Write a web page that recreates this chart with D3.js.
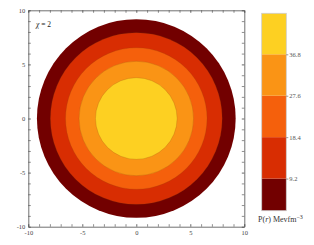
<!DOCTYPE html>
<html lang="en">
<head>
<meta charset="UTF-8"/>
<title>Density contours</title>
<script src="https://d3js.org/d3.v7.min.js"></script>
<style>
  body { margin: 0; background: white; }
  svg { display: block; }
</style>
</head>
<body>
<script>
    // contour levels of P(r) and the radius (fm) where each band ends
    var levels = [9.2, 18.4, 27.6, 36.8];
    var bandRadii = [9.2, 7.95, 6.55, 5.3, 3.78];
    var bandColors = ["#720000", "#d82d02", "#f5600c", "#fa9415", "#fdd022"];
    var axisTicks = [-10, -5, 0, 5, 10];
    var barDomain = [2.07, 45.9];

    var w = 314, h = 245;
    var padL = 28.3, padR = 244.3, padT = 10.3, padB = 226.7;

    var svg = d3.select("body").append("svg")
        .attr("width", w)
        .attr("height", h);

    var xScale = d3.scaleLinear().domain([-10, 10]).range([padL, padR]);
    var yScale = d3.scaleLinear().domain([-10, 10]).range([padB, padT]);

    // filled discs, largest first
    svg.selectAll("circle.band")
        .data(bandRadii)
        .enter()
        .append("circle")
        .attr("class", "band")
        .attr("cx", xScale(0))
        .attr("cy", yScale(0))
        .attr("r", function(d) { return xScale(d) - xScale(0); })
        .attr("fill", function(d, i) { return bandColors[i]; })
        .attr("stroke", function(d, i) { return i == 0 ? "none" : "#8a4a10"; })
        .attr("stroke-opacity", 0.35)
        .attr("stroke-width", 0.6);

    // axes, ticks inside, mirrored
    var minor = d3.range(-10, 11, 1);
    function addAxis(axis, tr, withLabels) {
        var g = svg.append("g")
            .attr("transform", tr)
            .call(axis.tickValues(minor).tickSize(-2.5).tickSizeOuter(0)
                  .tickFormat(function(d) { return withLabels && axisTicks.indexOf(d) >= 0 ? d : ""; }));
        g.selectAll(".tick line")
            .attr("stroke", "#444")
            .attr("stroke-width", 0.6)
            .filter(function(d) { return d % 5 == 0; })
            .attr("stroke-width", 0.8);
        g.select(".domain").attr("stroke", "#333").attr("stroke-width", 0.7);
        g.selectAll("text")
            .attr("font-family", "Liberation Serif")
            .attr("font-size", "6.5px")
            .attr("fill", "#444");
        return g;
    }
    var gx = addAxis(d3.axisBottom(xScale), "translate(0," + padB + ")", true);
    gx.selectAll("text").attr("y", 4).attr("dy", "0.71em");
    addAxis(d3.axisTop(xScale), "translate(0," + padT + ")", false);
    var gy = addAxis(d3.axisLeft(yScale), "translate(" + padL + ",0)", true);
    gy.selectAll("text").attr("x", -3);
    addAxis(d3.axisRight(yScale), "translate(" + padR + ",0)", false);

    // frame label
    var lab = svg.append("text")
        .attr("x", 36)
        .attr("y", 27)
        .attr("font-family", "Liberation Serif")
        .attr("font-size", "7.5px")
        .attr("fill", "#222");
    lab.append("tspan").attr("font-style", "italic").text("χ");
    lab.append("tspan").text(" = 2");

    // colour bar
    var barX = 261.7, barW = 24.6;
    var cScale = d3.scaleLinear().domain(barDomain).range([210.7, 13.3]);
    var edges = [barDomain[0]].concat(levels).concat([barDomain[1]]);
    var segs = d3.range(edges.length - 1).map(function(i) { return [edges[i], edges[i + 1]]; });

    svg.selectAll("rect.seg")
        .data(segs)
        .enter()
        .append("rect")
        .attr("class", "seg")
        .attr("x", barX)
        .attr("width", barW)
        .attr("y", function(d) { return cScale(d[1]); })
        .attr("height", function(d) { return cScale(d[0]) - cScale(d[1]); })
        .attr("fill", function(d, i) { return bandColors[i]; });

    svg.append("rect")
        .attr("x", barX)
        .attr("y", cScale(barDomain[1]))
        .attr("width", barW)
        .attr("height", cScale(barDomain[0]) - cScale(barDomain[1]))
        .attr("fill", "none")
        .attr("stroke", "#ccc")
        .attr("stroke-width", 0.8);

    var gc = svg.append("g")
        .attr("transform", "translate(" + (barX + barW) + ",0)")
        .call(d3.axisRight(cScale).tickValues(levels).tickSize(2).tickFormat(d3.format(".1f")));
    gc.select(".domain").remove();
    gc.selectAll(".tick line").attr("stroke", "#555").attr("stroke-width", 0.6);
    gc.selectAll("text")
        .attr("x", 3)
        .attr("font-family", "Liberation Serif")
        .attr("font-size", "6.5px")
        .attr("fill", "#555");

    var cl = svg.append("text")
        .attr("x", 258)
        .attr("y", 222)
        .attr("font-family", "Liberation Serif")
        .attr("font-size", "8px")
        .attr("fill", "#333");
    cl.append("tspan").text("P(");
    cl.append("tspan").attr("font-style", "italic").text("r");
    cl.append("tspan").text(") Mevfm");
    cl.append("tspan").attr("dy", -3).attr("font-size", "6px").text("−3");
</script>
</body>
</html>
